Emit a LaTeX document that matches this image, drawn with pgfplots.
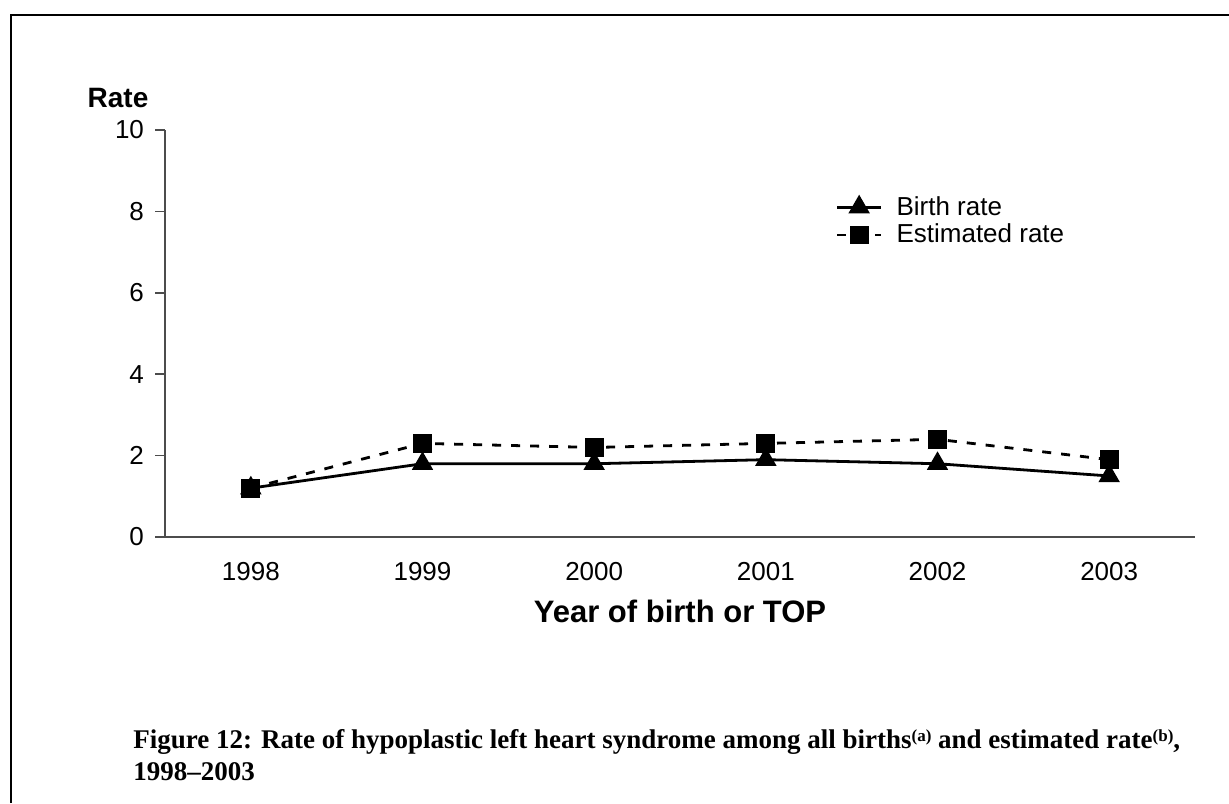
\documentclass[border=0pt]{standalone}
\usepackage{fontspec}
\setmainfont{Liberation Sans}
\newfontfamily\capfont{Liberation Serif}
\usepackage{pgfplots}
\pgfplotsset{compat=1.18}
\begin{document}
\begin{tikzpicture}
\useasboundingbox (0,0) rectangle (614.5pt,401.5pt);
\draw[line width=1.2pt] (5.5pt,0) -- (5.5pt,394pt) -- (614.5pt,394pt);
\begin{axis}[
  at={(82.5pt,133pt)}, anchor=south west,
  scale only axis, width=515pt, height=203.5pt,
  xmin=0, xmax=6, ymin=0, ymax=10,
  axis x line*=bottom, axis y line*=left,
  axis line style={black!70, line width=0.8pt},
  xtick={0.5,1.5,2.5,3.5,4.5,5.5},
  xticklabels={1998,1999,2000,2001,2002,2003},
  major x tick style={draw=none},
  extra x ticks={0,1,2,3,4,5,6},
  extra x tick labels={},
  extra x tick style={major tick length=5pt, tick style={black!70, line width=0.8pt, draw=black!70}},
  ytick={0,2,4,6,8,10},
  major y tick style={black!70, line width=0.8pt},
  tick align=outside, major tick length=5pt,
  tick label style={font=\fontsize{13}{15}\selectfont},
  xticklabel style={yshift=-4pt},
  yticklabel style={xshift=-2pt},
  /pgf/number format/assume math mode=true,
  xlabel={\textbf{Year of birth or TOP}},
  xlabel style={font=\fontsize{15.5}{18}\selectfont, at={(axis description cs:0.5,-0.184)}, anchor=center},
  ylabel={\textbf{Rate}},
  ylabel style={font=\fontsize{14}{17}\selectfont, rotate=-90, at={(axis description cs:-0.0456,1.078)}, anchor=center},
  legend style={at={(rel axis cs:0.645,0.858)}, anchor=north west, draw=none, fill=none,
    font=\fontsize{13}{15}\selectfont, row sep=-1pt},
  legend cell align=left,
  legend image code/.code={
    \draw[mark repeat=2,mark phase=2] plot coordinates {(0pt,0pt) (11pt,0pt) (22pt,0pt)};
    \path (27pt,0pt);
  },
]
\addplot[black, line width=1.4pt, mark=triangle*, mark size=4.8pt, mark options={solid}]
  coordinates {(0.5,1.2) (1.5,1.8) (2.5,1.8) (3.5,1.9) (4.5,1.8) (5.5,1.5)};
\addlegendentry{Birth rate}
\addplot[black, line width=1.4pt, dash pattern=on 4.5pt off 5pt, mark=square*, mark size=4pt, mark options={solid}]
  coordinates {(0.5,1.2) (1.5,2.3) (2.5,2.2) (3.5,2.3) (4.5,2.4) (5.5,1.9)};
\addlegendentry{Estimated rate}
\end{axis}
\node[anchor=west, font=\capfont\bfseries\fontsize{13.5}{16}\selectfont, inner sep=0pt] at (66.5pt,30.5pt)
  {Figure 12: Rate of hypoplastic left heart syndrome among all births{\fontsize{8.5}{10}\selectfont\raisebox{0.45em}{(a)}} and estimated rate{\fontsize{8.5}{10}\selectfont\raisebox{0.45em}{(b)}},};
\node[anchor=west, font=\capfont\bfseries\fontsize{13.5}{16}\selectfont, inner sep=0pt] at (66.5pt,15.5pt)
  {1998–2003};
\end{tikzpicture}
\end{document}
